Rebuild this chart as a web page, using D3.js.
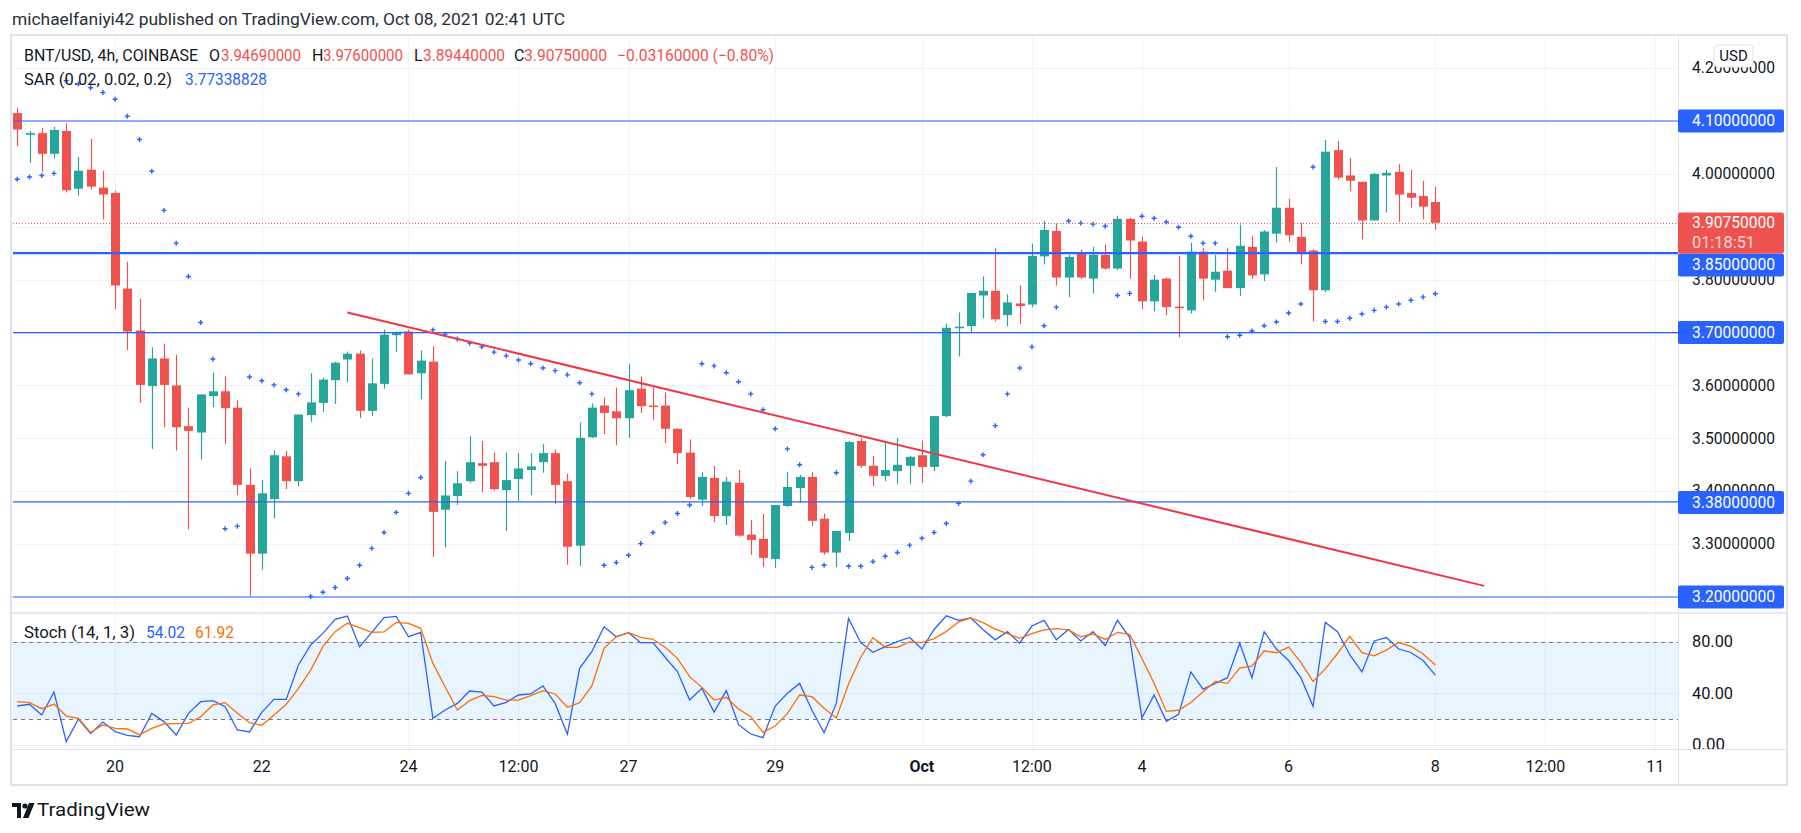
<!DOCTYPE html>
<html lang="en">
<head>
<meta charset="UTF-8">
<title>BNT/USD 4h</title>
<script src="https://cdn.jsdelivr.net/npm/d3@7"></script>
<style>
  body{ margin:0; background:#fff; }
  svg text{ font-family: Roboto, "Liberation Sans", sans-serif; }
</style>
</head>
<body>
<div class="chart"></div>
<script>
// candles, 4h bars, index 0 = Sep 18 16:00, index 116 = Oct 8 00:00
const opens  = [4.115,4.074,4.077,4.038,4.081,3.972,4.008,3.974,3.964,3.783,3.704,3.599,3.651,3.600,3.523,3.511,3.580,3.589,3.558,3.412,
  3.282,3.385,3.466,3.419,3.544,3.567,3.610,3.649,3.660,3.552,3.603,3.695,3.702,3.623,3.645,3.365,3.391,3.419,3.453,3.455,
  3.402,3.423,3.440,3.455,3.472,3.419,3.297,3.502,3.562,3.551,3.538,3.594,3.562,3.562,3.518,3.473,3.384,3.425,3.353,3.416,
  3.318,3.310,3.272,3.372,3.406,3.427,3.348,3.284,3.321,3.495,3.448,3.429,3.438,3.448,3.468,3.446,3.542,3.710,3.712,3.770,
  3.779,3.733,3.755,3.753,3.844,3.892,3.804,3.849,3.802,3.847,3.821,3.915,3.872,3.759,3.802,3.749,3.742,3.853,3.800,3.817,
  3.784,3.862,3.810,3.887,3.936,3.881,3.855,3.780,4.045,3.997,3.985,3.912,3.997,4.004,3.964,3.958,3.9469];
const highs  = [4.125,4.081,4.087,4.089,4.096,4.032,4.066,4.006,3.968,3.834,3.764,3.672,3.679,3.658,3.558,3.583,3.624,3.617,3.572,3.443,
  3.421,3.477,3.476,3.545,3.623,3.615,3.645,3.664,3.666,3.651,3.706,3.702,3.706,3.666,3.674,3.457,3.438,3.504,3.495,3.473,
  3.473,3.472,3.472,3.489,3.479,3.433,3.530,3.566,3.577,3.596,3.641,3.617,3.596,3.587,3.519,3.498,3.436,3.448,3.427,3.440,
  3.346,3.357,3.374,3.436,3.431,3.436,3.358,3.325,3.495,3.501,3.467,3.493,3.501,3.467,3.496,3.542,3.717,3.738,3.775,3.806,
  3.860,3.772,3.789,3.868,3.911,3.906,3.847,3.857,3.862,3.866,3.921,3.917,3.881,3.809,3.804,3.845,3.870,3.860,3.847,3.860,
  3.904,3.883,3.894,4.013,3.953,3.908,3.857,4.064,4.062,4.030,3.985,4.002,4.008,4.019,4.008,3.987,3.976];
const lows   = [4.052,4.021,4.004,4.029,3.965,3.959,3.970,3.914,3.744,3.667,3.567,3.480,3.521,3.477,3.328,3.460,3.559,3.489,3.393,3.202,
  3.252,3.349,3.404,3.409,3.531,3.550,3.565,3.606,3.538,3.542,3.594,3.663,3.621,3.574,3.276,3.294,3.374,3.416,3.398,3.401,
  3.325,3.382,3.393,3.435,3.376,3.261,3.259,3.501,3.508,3.487,3.501,3.548,3.535,3.491,3.451,3.385,3.372,3.342,3.336,3.314,
  3.280,3.257,3.255,3.370,3.378,3.334,3.280,3.257,3.306,3.444,3.410,3.419,3.414,3.414,3.416,3.438,3.540,3.655,3.701,3.727,
  3.721,3.712,3.716,3.748,3.829,3.789,3.767,3.802,3.774,3.819,3.818,3.802,3.744,3.740,3.733,3.691,3.736,3.761,3.777,3.784,
  3.769,3.801,3.797,3.870,3.872,3.829,3.721,3.777,3.989,3.967,3.876,3.912,3.927,3.909,3.936,3.914,3.8944];
const closes = [4.084,4.077,4.038,4.083,3.969,4.006,3.976,3.961,3.789,3.702,3.601,3.651,3.601,3.521,3.514,3.583,3.589,3.557,3.412,3.282,
  3.396,3.468,3.419,3.545,3.568,3.611,3.643,3.660,3.552,3.604,3.696,3.700,3.621,3.647,3.361,3.392,3.415,3.455,3.448,3.404,
  3.421,3.443,3.447,3.472,3.412,3.295,3.501,3.558,3.548,3.538,3.591,3.561,3.561,3.518,3.472,3.389,3.427,3.353,3.418,3.316,
  3.308,3.274,3.374,3.408,3.427,3.344,3.284,3.325,3.493,3.448,3.429,3.440,3.450,3.465,3.446,3.542,3.709,3.711,3.775,3.779,
  3.725,3.757,3.750,3.845,3.894,3.804,3.843,3.804,3.847,3.821,3.915,3.874,3.759,3.800,3.748,3.746,3.853,3.802,3.815,3.784,
  3.864,3.808,3.891,3.936,3.884,3.852,3.780,4.042,3.993,3.987,3.912,4.000,4.002,3.961,3.955,3.938,3.9075];

// parabolic SAR per bar
const sarValues = [3.990,3.994,3.997,4.001,4.176,4.170,4.163,4.154,4.141,4.109,4.065,4.005,3.931,3.869,3.806,3.719,3.650,3.329,3.334,3.616,
  3.609,3.601,3.592,3.584,3.201,3.209,3.218,3.235,3.260,3.292,3.322,3.360,3.396,3.426,3.705,3.697,3.688,3.680,3.673,3.663,
  3.656,3.648,3.641,3.633,3.628,3.620,3.605,3.584,3.260,3.265,3.279,3.301,3.322,3.341,3.358,3.374,3.641,3.637,3.624,3.607,
  3.584,3.554,3.518,3.480,3.450,3.256,3.260,3.435,3.258,3.258,3.267,3.277,3.284,3.298,3.311,3.322,3.339,3.377,3.419,3.469,
  3.524,3.584,3.633,3.673,3.713,3.748,3.911,3.907,3.905,3.901,3.770,3.774,3.920,3.916,3.909,3.899,3.882,3.869,3.869,3.692,
  3.695,3.703,3.713,3.720,3.737,3.754,4.013,3.721,3.721,3.727,3.735,3.742,3.748,3.754,3.761,3.767,3.7734];

// stochastic (14, 1, 3)
const stochK = [30.2,31.5,23.2,41.0,2.6,20.1,8.8,17.8,10.3,7.5,6.4,24.5,18.1,7.7,24.5,33.5,34.3,29.7,11.6,10.1,
  25.3,35.3,35.3,61.9,77.4,86.4,97.3,99.8,76.1,87.2,98.6,99.6,83.8,87.2,20.6,27.1,32.2,41.8,41.0,30.2,
  33.0,38.7,39.5,45.7,32.2,8.3,59.3,72.2,91.6,83.8,86.9,79.2,79.2,67.9,56.8,34.8,43.9,25.5,42.1,15.7,
  8.5,5.7,30.2,40.0,47.7,27.1,9.5,32.2,98.0,79.2,71.7,76.1,80.0,83.2,74.3,89.4,100,96.5,98.3,89.4,
  81.4,87.7,78.8,92.1,96.5,81.4,89.4,80.5,87.7,77.0,96.5,83.2,21.0,38.8,18.3,23.7,56.6,43.2,47.7,52.1,
  78.8,52.1,87.7,74.3,65.4,52.1,29.9,94.8,87.7,69.9,56.6,80.5,83.2,74.3,71.6,65.4,54.02];
const stochD = [33.5,32.8,28.1,31.7,22.4,20.6,9.8,15.5,12.9,12.4,8.0,12.9,16.3,16.5,16.8,21.9,31.0,32.8,24.5,17.3,
  15.2,23.2,31.5,43.9,58.0,76.1,87.7,94.2,90.8,87.2,87.5,94.9,94.2,90.3,63.2,45.1,27.1,34.3,38.4,37.4,
  34.8,34.8,38.2,42.1,39.5,29.2,32.8,45.7,74.8,83.8,86.9,83.3,81.8,75.6,67.1,52.9,44.6,34.8,36.9,27.9,
  21.9,9.8,14.7,24.5,38.7,37.4,28.4,20.9,47.2,67.9,83.1,75.6,75.6,79.8,79.2,82.3,87.9,95.3,98.3,94.7,
  89.7,86.2,82.6,86.2,89.1,90.0,89.1,83.8,85.9,81.7,87.1,85.6,66.9,47.7,26.0,26.9,32.9,41.2,49.2,47.7,
  59.5,61.0,72.9,71.4,75.8,63.9,49.1,58.9,70.8,84.1,71.4,69.0,73.4,79.3,76.4,70.4,61.92];

const timeTickBars   = [8,20,32,41,50,62,74,83,92,104,116,125,134];
const timeTickLabels = ["20","22","24","12:00","27","29","Oct","12:00","4","6","8","12:00","11"];
const priceTicks = [4.2,4.1,4.0,3.9,3.8,3.7,3.6,3.5,3.4,3.3,3.2];
const levelPrices = [4.10,3.85,3.70,3.38,3.20];
const trendBars = [27,120];
const trendPrices = [3.738,3.221];
const stochTicks = [80,40,0];
const lastPrice = 3.9075;

const W = 1801, H = 833;
const pane = {left:13, right:1678, top:37, bottom:612};
const spane = {top:614, bottom:749};
const axisRight = 1786, timeBottom = 785;
const up = '#26a69a', down = '#ef5350', blue = '#2962ff', orange = '#ff6d00', txt = '#131722';

const x = d3.scaleLinear().domain([0,116]).range([17.3,1435.3]);
const y = d3.scaleLinear().domain([3.2,4.1]).range([597,121]);
const ys = d3.scaleLinear().domain([0,100]).range([745,615.8]);

const svg = d3.select('.chart').append('svg').attr('width',W).attr('height',H);
svg.append('rect').attr('width',W).attr('height',H).attr('fill','#fff');

const defs = svg.append('defs');
defs.append('clipPath').attr('id','mainClip').append('rect')
  .attr('x',pane.left).attr('y',pane.top).attr('width',pane.right-pane.left).attr('height',pane.bottom-pane.top);
defs.append('clipPath').attr('id','stochClip').append('rect')
  .attr('x',pane.left).attr('y',spane.top).attr('width',pane.right-pane.left).attr('height',spane.bottom-spane.top);
defs.append('clipPath').attr('id','stochAxisClip').append('rect')
  .attr('x',pane.right).attr('y',spane.top).attr('width',axisRight-pane.right).attr('height',spane.bottom-spane.top);

function label(g, t, px, py, opt){
  const el = g.append('text').attr('x',px).attr('y',py).text(t)
    .attr('font-size', opt.size||16).attr('fill', opt.fill||txt)
    .attr('dominant-baseline','middle');
  if(opt.len) el.attr('textLength',opt.len).attr('lengthAdjust','spacingAndGlyphs');
  if(opt.anchor) el.attr('text-anchor',opt.anchor);
  if(opt.weight) el.attr('font-weight',opt.weight);
  return el;
}

// title
label(svg,'michaelfaniyi42 published on TradingView.com, Oct 08, 2021 02:41 UTC',12,21,{len:553,fill:'#2a2e39'});

// grid
const grid = svg.append('g');
grid.selectAll('.hg').data(priceTicks).enter().append('line')
  .attr('x1',pane.left).attr('x2',pane.right).attr('y1',d=>Math.round(y(d))+0.5).attr('y2',d=>Math.round(y(d))+0.5)
  .attr('stroke','#f0f3fa').attr('clip-path','url(#mainClip)');
grid.selectAll('.vg').data(timeTickBars).enter().append('line')
  .attr('x1',d=>Math.round(x(d))+0.5).attr('x2',d=>Math.round(x(d))+0.5)
  .attr('y1',pane.top).attr('y2',spane.bottom).attr('stroke','#f0f3fa');
grid.selectAll('.sg').data(stochTicks).enter().append('line')
  .attr('x1',pane.left).attr('x2',pane.right).attr('y1',d=>Math.round(ys(d))+0.5).attr('y2',d=>Math.round(ys(d))+0.5)
  .attr('stroke','#f0f3fa');

// main pane
const main = svg.append('g').attr('clip-path','url(#mainClip)');
const bars = d3.range(opens.length).map(i=>({i, o:opens[i], h:highs[i], l:lows[i], c:closes[i]}));
const cg = main.selectAll('.candle').data(bars).enter().append('g');
cg.append('line')
  .attr('x1',d=>Math.round(x(d.i))+0.5).attr('x2',d=>Math.round(x(d.i))+0.5)
  .attr('y1',d=>y(d.h)).attr('y2',d=>y(d.l))
  .attr('stroke',d=>d.c>=d.o?up:down).attr('stroke-width',1.2);
cg.append('rect')
  .attr('x',d=>Math.round(x(d.i))-4).attr('width',9)
  .attr('y',d=>y(Math.max(d.o,d.c)))
  .attr('height',d=>Math.max(1.5, y(Math.min(d.o,d.c))-y(Math.max(d.o,d.c))))
  .attr('fill',d=>d.c>=d.o?up:down);

// SAR
const sg = main.selectAll('.sar').data(sarValues.map((v,i)=>({i,v}))).enter().append('g')
  .attr('transform',d=>`translate(${x(d.i)},${y(d.v)})`);
sg.append('path').attr('d','M-2.5,0H2.5M0,-2.5V2.5').attr('stroke',blue).attr('stroke-width',1.4);

// horizontal levels
main.selectAll('.lvl').data(levelPrices).enter().append('line')
  .attr('x1',pane.left).attr('x2',pane.right)
  .attr('y1',d=>y(d)).attr('y2',d=>y(d))
  .attr('stroke',blue).attr('stroke-width',d=>d===3.85?2.2:1.2);

// trend line
main.append('line')
  .attr('x1',x(trendBars[0])).attr('y1',y(trendPrices[0]))
  .attr('x2',x(trendBars[1])).attr('y2',y(trendPrices[1]))
  .attr('stroke','#f23645').attr('stroke-width',2);

// last price line
main.append('line').attr('x1',pane.left).attr('x2',pane.right)
  .attr('y1',Math.round(y(lastPrice))+0.5).attr('y2',Math.round(y(lastPrice))+0.5)
  .attr('stroke',down).attr('stroke-dasharray','1,2');

// stoch pane
const st = svg.append('g').attr('clip-path','url(#stochClip)');
st.append('rect').attr('x',pane.left).attr('width',pane.right-pane.left)
  .attr('y',ys(80)).attr('height',ys(20)-ys(80)).attr('fill','rgba(33,150,243,0.1)');
st.selectAll('.band').data([80,20]).enter().append('line')
  .attr('x1',pane.left).attr('x2',pane.right).attr('y1',d=>Math.round(ys(d))+0.5).attr('y2',d=>Math.round(ys(d))+0.5)
  .attr('stroke','#787b86').attr('stroke-dasharray','4,4');
const lineK = d3.line().x((d,i)=>x(i)).y(d=>ys(d));
st.append('path').attr('d',lineK(stochK)).attr('fill','none').attr('stroke',blue).attr('stroke-width',1.3);
st.append('path').attr('d',lineK(stochD)).attr('fill','none').attr('stroke',orange).attr('stroke-width',1.3);

// frame
const fr = svg.append('g');
fr.append('rect').attr('x',11).attr('y',35).attr('width',axisRight-10).attr('height',timeBottom-35)
  .attr('fill','none').attr('stroke','#e0e3eb').attr('stroke-width',2);
fr.append('line').attr('x1',11).attr('x2',axisRight+1).attr('y1',613).attr('y2',613).attr('stroke','#e0e3eb').attr('stroke-width',1.5);
fr.append('line').attr('x1',11).attr('x2',axisRight+1).attr('y1',749.5).attr('y2',749.5).attr('stroke','#e0e3eb');
fr.append('line').attr('x1',pane.right+0.5).attr('x2',pane.right+0.5).attr('y1',35).attr('y2',timeBottom).attr('stroke','#e0e3eb');

// price axis: plain tick labels, skipping those fully covered by a marker box
const pa = svg.append('g');
const boxY = levelPrices.map(p=>y(p)).concat([y(lastPrice)]);
const shownTicks = priceTicks.filter(t=>!boxY.some(b=>Math.abs(b-y(t))<8));
pa.selectAll('.pt').data(shownTicks).enter().append('text')
  .attr('x',1692).attr('y',d=>y(d)+1).attr('dominant-baseline','middle')
  .attr('font-size',16).attr('fill',txt).text(d=>d.toFixed(8))
  .attr('textLength',83).attr('lengthAdjust','spacingAndGlyphs');
// USD button
pa.append('rect').attr('x',1714).attr('y',45).attr('width',39).attr('height',22).attr('rx',4)
  .attr('fill','#fff').attr('stroke','#e0e3eb');
label(pa,'USD',1733.5,57,{anchor:'middle',size:15});

const levelLabelY = {4.10:y(4.10), 3.85:265, 3.70:y(3.70), 3.38:502.5, 3.20:y(3.20)};
levelPrices.forEach(p=>{
  const cy = levelLabelY[p];
  pa.append('rect').attr('x',pane.right).attr('y',cy-11.5).attr('width',106).attr('height',23).attr('rx',2).attr('fill',blue);
  label(pa,p.toFixed(8),1692,cy+1,{fill:'#fff',len:83});
});
pa.append('rect').attr('x',pane.right).attr('y',212.5).attr('width',106).attr('height',41).attr('rx',2).attr('fill',down);
label(pa,lastPrice.toFixed(8),1692,224,{fill:'#fff',len:83});
label(pa,'01:18:51',1692,244,{fill:'rgba(255,255,255,0.8)',len:63});

// stoch axis
const sa = svg.append('g').attr('clip-path','url(#stochAxisClip)');
sa.selectAll('.st').data(stochTicks).enter().append('text')
  .attr('x',1692).attr('y',d=>ys(d)+1).attr('dominant-baseline','middle')
  .attr('font-size',16).attr('fill',txt).text(d=>d.toFixed(2))
  .attr('textLength',d=>d===0?33:41).attr('lengthAdjust','spacingAndGlyphs');

// time axis
const ta = svg.append('g');
timeTickBars.forEach((b,i)=>{
  label(ta,timeTickLabels[i],x(b),768,{anchor:'middle',weight:timeTickLabels[i]==='Oct'?'bold':null});
});

// legends
const lg = svg.append('g');
label(lg,'BNT/USD, 4h, COINBASE',24,57,{len:174});
label(lg,'O',209,57,{});
label(lg,'3.94690000',221,57,{fill:down,len:80});
label(lg,'H',312,57,{});
label(lg,'3.97600000',323,57,{fill:down,len:80});
label(lg,'L',414,57,{});
label(lg,'3.89440000',423,57,{fill:down,len:82});
label(lg,'C',514,57,{});
label(lg,'3.90750000',524,57,{fill:down,len:83});
label(lg,'\u22120.03160000 (\u22120.80%)',617,57,{fill:down,len:157});
label(lg,'SAR (0.02, 0.02, 0.2)',24,81,{len:148});
label(lg,'3.77338828',185,81,{fill:blue,len:82});
label(lg,'Stoch (14, 1, 3)',24,634,{len:111});
label(lg,'54.02',146,634,{fill:blue,len:39});
label(lg,'61.92',195,634,{fill:orange,len:39});

// TradingView mark
const tv = svg.append('g').attr('fill',txt);
tv.append('path').attr('d','M12,803H21V818H17V807H12Z');
tv.append('circle').attr('cx',25).attr('cy',806).attr('r',2.6);
tv.append('path').attr('d','M29,803H34.5L28.5,818H23Z');
label(tv,'TradingView',37,811,{size:18,len:113});
</script>
</body>
</html>
